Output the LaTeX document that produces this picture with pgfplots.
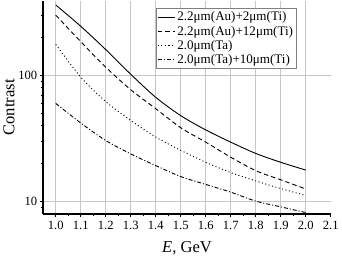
\documentclass[border=0pt]{standalone}
\usepackage{fontspec}
\setmainfont{Liberation Serif}
\usepackage{pgfplots}
\pgfplotsset{compat=1.18}
\begin{document}
\begin{tikzpicture}
\begin{axis}[
  scale only axis,
  width=286pt, height=212pt,
  ymode=log,
  xmin=0.95, xmax=2.1,
  ymin=8, ymax=390,
  axis lines=left,
  axis line style={-, line width=1.2pt},
  y axis line style={line width=1.6pt},
  xtick={1.0,1.1,1.2,1.3,1.4,1.5,1.6,1.7,1.8,1.9,2.0},
  extra x ticks={2.1},
  extra x tick style={grid=none},
  minor x tick num=1,
  ytick={10,100},
  minor ytick={9,20,30,40,50,60,70,80,90,200,300},
  log ticks with fixed point,
  grid=major,
  major grid style={gray!45, line width=0.8pt},
  tick align=outside,
  major tick length=3.5pt,
  minor tick length=2.5pt,
  tick style={black, line width=0.8pt},
  /pgf/number format/assume math mode=true,
  xticklabel style={/pgf/number format/.cd, fixed, fixed zerofill, precision=1},
  yticklabel style={xshift=1pt},
  ticklabel style={font=\fontsize{12.5}{14}\selectfont},
  xlabel={\textit{E}, GeV},
  ylabel={Contrast},
  label style={font=\fontsize{16.5}{18}\selectfont},
  xlabel style={yshift=2pt},
  ylabel style={yshift=-3pt},
  legend style={at={(0.882,0.966)}, anchor=north east, draw=gray, line width=0.6pt,
    fill=white, font=\fontsize{13}{15}\selectfont, row sep=-0.5pt, inner sep=1.5pt},
  legend cell align=left,
  legend image post style={line width=0.9pt},
  every axis plot/.append style={black, line width=0.9pt, smooth},
]
\addplot[solid] coordinates {(1.0,361) (1.1,245) (1.2,160) (1.3,102) (1.4,67) (1.5,48) (1.6,37) (1.7,29.6) (1.8,24.1) (1.9,20.5) (2.0,17.8)};
\addlegendentry{2.2μm(Au)+2μm(Ti)}
\addplot[dash pattern=on 4.5pt off 3pt] coordinates {(1.0,300) (1.1,185) (1.2,116) (1.3,77) (1.4,54.5) (1.5,38.5) (1.6,29.6) (1.7,22.5) (1.8,17.6) (1.9,14.9) (2.0,12.6)};
\addlegendentry{2.2μm(Au)+12μm(Ti)}
\addplot[dash pattern=on 1pt off 2.5pt] coordinates {(1.0,176) (1.1,97) (1.2,62) (1.3,44) (1.4,32.5) (1.5,25.5) (1.6,20.5) (1.7,17) (1.8,14.6) (1.9,12.7) (2.0,11.2)};
\addlegendentry{2.0μm(Ta)}
\addplot[dash pattern=on 4pt off 2pt on 1pt off 2pt] coordinates {(1.0,60) (1.1,42) (1.2,30.5) (1.3,23.9) (1.4,19.3) (1.5,15.8) (1.6,13.7) (1.7,11.9) (1.8,10.1) (1.9,9.1) (2.0,8.2)};
\addlegendentry{2.0μm(Ta)+10μm(Ti)}
\end{axis}
\end{tikzpicture}
\end{document}
